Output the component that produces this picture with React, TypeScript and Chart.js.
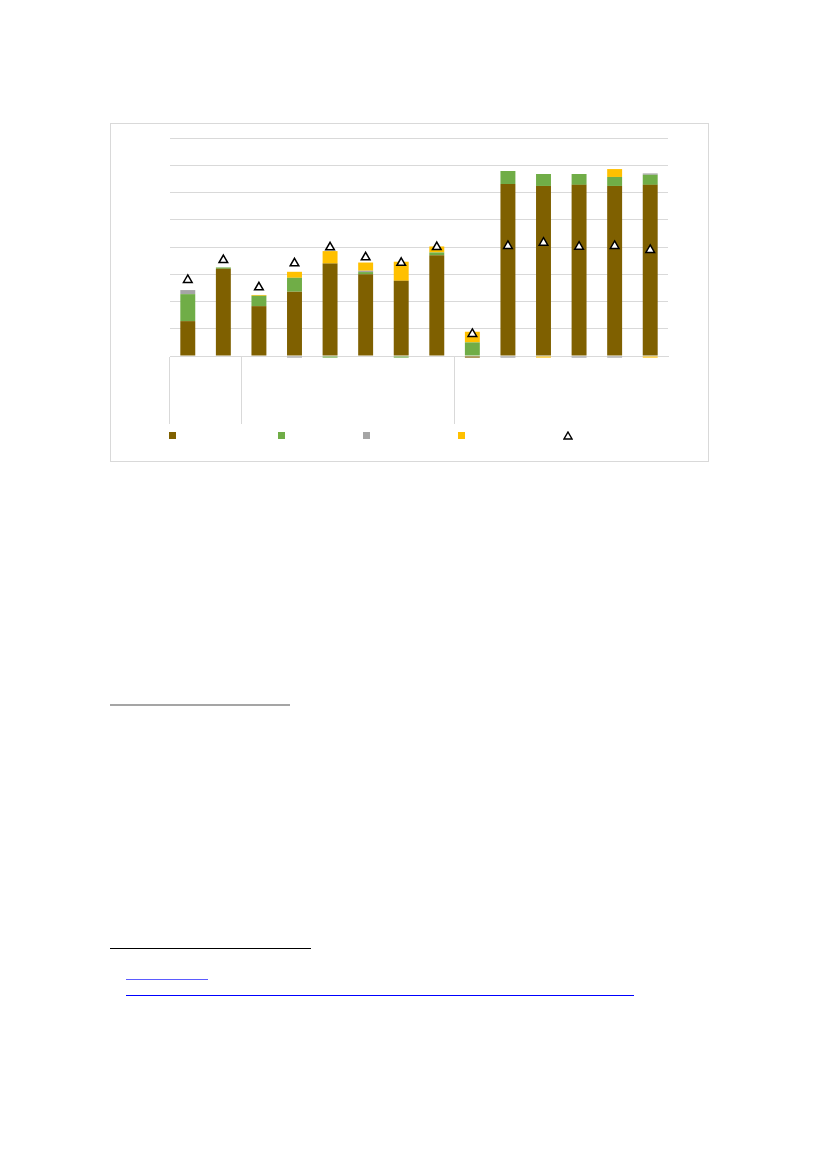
import { useEffect, useRef } from 'react';
import { Chart, registerables } from 'chart.js';

Chart.register(...registerables);

// 14 categories in three groups (2 + 6 + 6); the reference shows no text
const categories = ['', '', '', '', '', '', '', '', '', '', '', '', '', ''];
const groupBreaks = [0, 2, 8, 14];

const brownValues = [1.28, 3.2, 1.83, 2.36, 3.39, 3.0, 2.76, 3.7, -0.06, 6.31, 6.24, 6.28, 6.24, 6.28];
const greenValues = [0.99, 0.05, 0.38, 0.51, -0.06, 0.08, -0.06, 0.1, 0.5, 0.48, 0.44, 0.4, 0.33, 0.37];
const grayValues = [0.15, 0.0, 0.0, -0.06, 0.0, 0.05, 0.0, 0.0, 0.0, -0.06, 0.0, -0.06, -0.06, 0.05];
const yellowValues = [0.0, 0.0, 0.03, 0.22, 0.46, 0.3, 0.7, 0.22, 0.39, 0.0, -0.06, 0.0, 0.29, -0.06];
const totalValues = [2.79, 3.52, 2.52, 3.4, 3.99, 3.62, 3.42, 4.0, 0.81, 4.04, 4.16, 4.01, 4.04, 3.89];

const BROWN = '#7f6000';
const GREEN = '#70ad47';
const GRAY = '#a5a5a5';
const YELLOW = '#ffc000';
const LINE = '#d9d9d9';

function BarChart() {
  const chartRef = useRef<HTMLCanvasElement>(null);
  const chartInstance = useRef<Chart | null>(null);

  useEffect(() => {
    if (!chartRef.current) return;
    const ctx = chartRef.current.getContext('2d');
    if (!ctx) return;

    const bar = (data: number[], color: string) => ({
      type: 'bar' as const,
      data,
      backgroundColor: color,
      borderWidth: 0,
      stack: 'main',
      order: 1,
      clip: false as const,
      categoryPercentage: 1,
      barPercentage: 0.42,
    });

    chartInstance.current = new Chart(ctx, {
      type: 'bar',
      data: {
        labels: categories,
        datasets: [
          bar(brownValues, BROWN),
          bar(greenValues, GREEN),
          bar(grayValues, GRAY),
          bar(yellowValues, YELLOW),
          // triangles drawn last, on top of the bars
          {
            type: 'line',
            data: totalValues,
            showLine: false,
            stack: 'total',
            order: 0,
            pointStyle: 'triangle',
            pointRadius: 5,
            pointBackgroundColor: '#ffffff',
            pointBorderColor: '#000000',
            pointBorderWidth: 1.5,
          } as any,
        ],
      },
      options: {
        animation: false,
        responsive: true,
        maintainAspectRatio: false,
        layout: { padding: { left: 59, right: 39, top: 14, bottom: 2 } },
        plugins: {
          legend: { display: false },
          tooltip: { enabled: false },
        },
        scales: {
          x: {
            stacked: true,
            ticks: { display: false },
            grid: {
              offset: true,
              drawOnChartArea: false,
              drawTicks: true,
              tickLength: 68,
              tickWidth: 1,
              color: (c: any) => (groupBreaks.includes(c.index) ? LINE : 'rgba(0,0,0,0)'),
            },
            border: { display: true, color: LINE, width: 1 },
          },
          y: {
            stacked: true,
            min: 0,
            max: 8,
            ticks: { display: false, stepSize: 1 },
            grid: { color: LINE, drawTicks: false, tickLength: 0 },
            border: { display: false },
          },
        },
      },
    });

    return () => {
      if (chartInstance.current) {
        chartInstance.current.destroy();
      }
    };
  }, []);

  return <canvas ref={chartRef} />;
}

const legendItems = [
  { left: 169, color: BROWN },
  { left: 278, color: GREEN },
  { left: 363, color: GRAY },
  { left: 458, color: YELLOW },
];

export default function App() {
  return (
    <div style={{ position: 'absolute', left: 0, top: 0, width: 827, height: 1169 }}>
      <div
        style={{
          position: 'absolute',
          left: 110,
          top: 123,
          width: 597,
          height: 337,
          border: `1px solid ${LINE}`,
          background: '#fff',
        }}
      />
      <div style={{ position: 'absolute', left: 111, top: 124, width: 596, height: 302 }}>
        <BarChart />
      </div>
      {legendItems.map((item, i) => (
        <div
          key={i}
          style={{
            position: 'absolute',
            left: item.left,
            top: 432,
            width: 7,
            height: 7,
            background: item.color,
          }}
        />
      ))}
      <svg style={{ position: 'absolute', left: 563, top: 431 }} width={10} height={9}>
        <polygon points="5,1 9,8 1,8" fill="#fff" stroke="#000" strokeWidth={1.4} />
      </svg>
      <div style={{ position: 'absolute', left: 110, top: 704, width: 180, height: 2, background: GRAY }} />
      <div style={{ position: 'absolute', left: 110, top: 948, width: 201, height: 1, background: '#000' }} />
      <div style={{ position: 'absolute', left: 126, top: 979, width: 82, height: 1, background: '#5b5bff' }} />
      <div style={{ position: 'absolute', left: 126, top: 995, width: 508, height: 1, background: '#0000ff' }} />
    </div>
  );
}
